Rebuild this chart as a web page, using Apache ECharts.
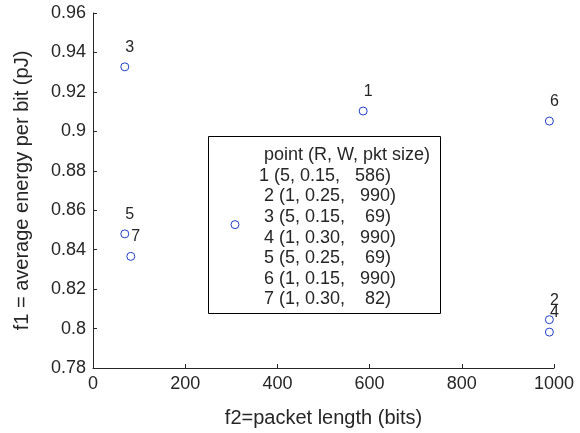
<!DOCTYPE html>
<html>
<head>
<meta charset="utf-8">
<script src="https://cdn.jsdelivr.net/npm/echarts@6/dist/echarts.min.js"></script>
<style>
  html, body { margin: 0; padding: 0; background: #fff; }
  #graph { width: 580px; height: 433px; }
</style>
</head>
<body>
<div id="graph"></div>
<script>
  // 数据：x = 包长, y = 平均每比特能耗
  var pktLen = [586, 990, 69, 990, 69, 990, 82, 308];
  var energy = [0.9103, 0.8045, 0.9327, 0.7982, 0.848, 0.9052, 0.8366, 0.8527];
  var pointLabels = ['1', '2', '3', '4', '5', '6', '7', ''];
  // 表格里的参数 (R, W)
  var rVals = [5, 1, 5, 1, 5, 1, 1];
  var wVals = [0.15, 0.25, 0.15, 0.30, 0.25, 0.15, 0.30];
  var xTicks = [0, 200, 400, 600, 800, 1000];
  var yTicks = [0.78, 0.8, 0.82, 0.84, 0.86, 0.88, 0.9, 0.92, 0.94, 0.96];

  var font = "'Liberation Sans', Arial, Helvetica, sans-serif";
  var ink = '#262626';

  var pts = [];
  for (var i = 0; i < pktLen.length; i++) {
    pts.push({ value: [pktLen[i], energy[i]], name: pointLabels[i] });
  }

  // 框里的文字
  var lines = [' point (R, W, pkt size)'];
  for (var k = 0; k < rVals.length; k++) {
    var s = String(pktLen[k]);
    while (s.length < 3) s = ' ' + s;
    lines.push((k === 0 ? '' : ' ') + (k + 1) + ' (' + rVals[k] + ', ' + wVals[k].toFixed(2) + ',   ' + s + ')');
  }

  var myChart = echarts.init(document.getElementById('graph'));
  var option = {
    animation: false,
    backgroundColor: '#fff',
    grid: { left: 93, right: 26, top: 13, bottom: 65 },
    xAxis: {
      type: 'value',
      min: xTicks[0],
      max: xTicks[xTicks.length - 1],
      interval: 200,
      name: 'f2=packet length (bits)',
      nameLocation: 'middle',
      nameGap: 40,
      nameTextStyle: { fontFamily: font, fontSize: 20, color: ink },
      axisLine: { show: true, lineStyle: { color: ink, width: 1 } },
      axisTick: { show: true, inside: true, length: 4, lineStyle: { color: ink } },
      axisLabel: {
        fontFamily: font, fontSize: 18, color: ink, margin: 7,
        formatter: function (v) { return String(v); }
      },
      splitLine: { show: false }
    },
    yAxis: {
      type: 'value',
      min: yTicks[0],
      max: yTicks[yTicks.length - 1],
      interval: 0.02,
      name: 'f1 = average energy per bit (pJ)',
      nameLocation: 'middle',
      nameGap: 61,
      nameRotate: 90,
      nameTextStyle: { fontFamily: font, fontSize: 20, color: ink },
      axisLine: { show: true, lineStyle: { color: ink, width: 1 } },
      axisTick: { show: true, inside: true, length: 4, lineStyle: { color: ink } },
      axisLabel: {
        fontFamily: font, fontSize: 18, color: ink, margin: 7,
        formatter: function (v) { return String(+v.toFixed(2)); }
      },
      splitLine: { show: false }
    },
    graphic: [
      {
        type: 'rect',
        z: -1,
        shape: { x: 208.5, y: 136.5, width: 232, height: 177 },
        style: { fill: 'none', stroke: '#000', lineWidth: 1 }
      },
      {
        type: 'text',
        z: -1,
        left: 259,
        top: 145,
        style: {
          text: lines.join('\n'),
          fontFamily: font,
          fontSize: 18,
          lineHeight: 20.6,
          fill: ink
        }
      }
    ],
    series: [
      {
        type: 'scatter',
        data: pts,
        symbol: 'circle',
        symbolSize: 8,
        itemStyle: { color: '#fff', borderColor: '#2140c4', borderWidth: 1, opacity: 1 },
        label: {
          show: true,
          position: 'top',
          distance: 7,
          offset: [5, 0],
          formatter: function (p) { return p.name; },
          fontFamily: font,
          fontSize: 16,
          color: ink,
          textBorderWidth: 0
        },
        emphasis: { disabled: true }
      }
    ]
  };
  myChart.setOption(option);
</script>
</body>
</html>
